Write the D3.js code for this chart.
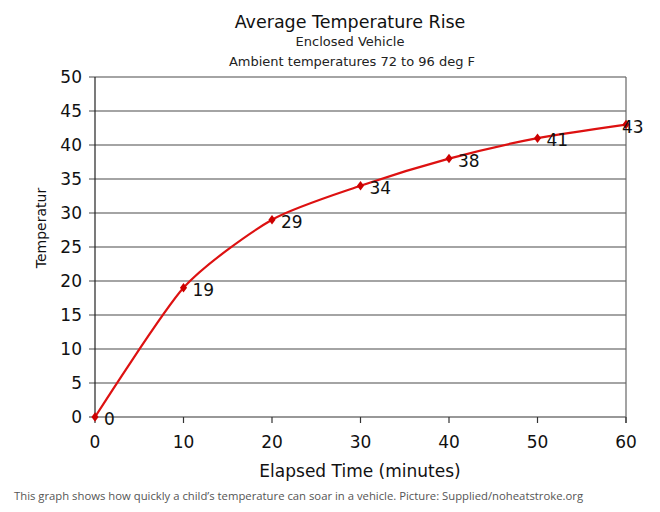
<!DOCTYPE html>
<html>
<head>
<meta charset="utf-8">
<script src="https://cdn.jsdelivr.net/npm/d3@7"></script>
<style>
  body { margin: 0; background: #fff; }
</style>
</head>
<body>
<svg width="660" height="512"></svg>
<script>
// data
var minutes = [0, 10, 20, 30, 40, 50, 60];
var temps = [0, 19, 29, 34, 38, 41, 43];
var yTicks = [0, 5, 10, 15, 20, 25, 30, 35, 40, 45, 50];
var xTicks = [0, 10, 20, 30, 40, 50, 60];

var svg = d3.select("svg");
var font = "DejaVu Sans, Verdana, sans-serif";

var plotLeft = 95, plotRight = 626, plotTop = 77, plotBottom = 417;

var xScale = d3.scaleLinear().domain([0, 60]).range([plotLeft, plotRight]),
    yScale = d3.scaleLinear().domain([0, 50]).range([plotBottom, plotTop]);

// grid lines
svg.append("g")
  .selectAll("line")
  .data(yTicks)
  .enter()
  .append("line")
  .attr("x1", plotLeft - 6)
  .attr("x2", plotRight)
  .attr("y1", function (d) { return yScale(d); })
  .attr("y2", function (d) { return yScale(d); })
  .style("stroke", function (d) { return d === 0 ? "#333" : "#4a4a4a"; })
  .style("stroke-width", 1.2);

// y axis line and right border
svg.append("line")
  .attr("x1", plotLeft).attr("x2", plotLeft)
  .attr("y1", plotTop).attr("y2", plotBottom + 1)
  .style("stroke", "#222").style("stroke-width", 1.2);
svg.append("line")
  .attr("x1", plotRight).attr("x2", plotRight)
  .attr("y1", plotTop).attr("y2", plotBottom + 6)
  .style("stroke", "#666").style("stroke-width", 1.2);

// x ticks
svg.append("g")
  .selectAll("line")
  .data(xTicks)
  .enter()
  .append("line")
  .attr("x1", function (d) { return xScale(d); })
  .attr("x2", function (d) { return xScale(d); })
  .attr("y1", plotBottom)
  .attr("y2", plotBottom + 6)
  .style("stroke", "#333")
  .style("stroke-width", 1.2);

// y tick labels
svg.append("g")
  .selectAll("text")
  .data(yTicks)
  .enter()
  .append("text")
  .attr("x", plotLeft - 13)
  .attr("y", function (d) { return yScale(d) + 6; })
  .attr("text-anchor", "end")
  .style("font-family", font)
  .style("font-size", "17px")
  .style("fill", "#111")
  .text(function (d) { return d; });

// x tick labels
svg.append("g")
  .selectAll("text")
  .data(xTicks)
  .enter()
  .append("text")
  .attr("x", function (d) { return xScale(d); })
  .attr("y", 448)
  .attr("text-anchor", "middle")
  .style("font-family", font)
  .style("font-size", "17px")
  .style("fill", "#111")
  .text(function (d) { return d; });

// titles
svg.append("text")
  .attr("x", 350).attr("y", 28)
  .attr("text-anchor", "middle")
  .style("font-family", font)
  .style("font-size", "17.5px")
  .style("fill", "#111")
  .text("Average Temperature Rise");

svg.append("text")
  .attr("x", 350).attr("y", 46)
  .attr("text-anchor", "middle")
  .style("font-family", font)
  .style("font-size", "13px")
  .style("fill", "#222")
  .text("Enclosed Vehicle");

svg.append("text")
  .attr("x", 352).attr("y", 66)
  .attr("text-anchor", "middle")
  .style("font-family", font)
  .style("font-size", "13px")
  .style("fill", "#222")
  .text("Ambient temperatures 72 to 96 deg F");

// axis labels
svg.append("text")
  .attr("x", 360).attr("y", 477)
  .attr("text-anchor", "middle")
  .style("font-family", font)
  .style("font-size", "17px")
  .style("fill", "#111")
  .text("Elapsed Time (minutes)");

svg.append("text")
  .attr("text-anchor", "middle")
  .attr("transform", "translate(46,228)rotate(-90)")
  .style("font-family", font)
  .style("font-size", "14px")
  .style("fill", "#111")
  .text("Temperatur");

// caption
svg.append("text")
  .attr("x", 14).attr("y", 500)
  .style("font-family", "Open Sans, sans-serif")
  .style("font-size", "11.3px")
  .style("fill", "#555")
  .text("This graph shows how quickly a child\u2019s temperature can soar in a vehicle. Picture: Supplied/noheatstroke.org");

// line
var pts = minutes.map(function (m, i) { return [m, temps[i]]; });

var line = d3.line()
  .x(function (d) { return xScale(d[0]); })
  .y(function (d) { return yScale(d[1]); })
  .curve(d3.curveCardinal.tension(0.3));

svg.append("path")
  .datum(pts)
  .attr("d", line)
  .style("fill", "none")
  .style("stroke", "#dd1111")
  .style("stroke-width", 2.2);

// diamond markers
svg.append("g")
  .selectAll("path")
  .data(pts)
  .enter()
  .append("path")
  .attr("d", d3.symbol().type(d3.symbolDiamond).size(26))
  .attr("transform", function (d) { return "translate(" + xScale(d[0]) + "," + yScale(d[1]) + ")scale(1.3,1)"; })
  .style("fill", "#cc0000");

// point labels (kept inside the picture at the right edge)
svg.append("g")
  .selectAll("text")
  .data(pts)
  .enter()
  .append("text")
  .attr("x", function (d) { return Math.min(xScale(d[0]) + 9, 622); })
  .attr("y", function (d) { return yScale(d[1]) + 8; })
  .style("font-family", font)
  .style("font-size", "17px")
  .style("fill", "#111")
  .text(function (d) { return d[1]; });
</script>
</body>
</html>
